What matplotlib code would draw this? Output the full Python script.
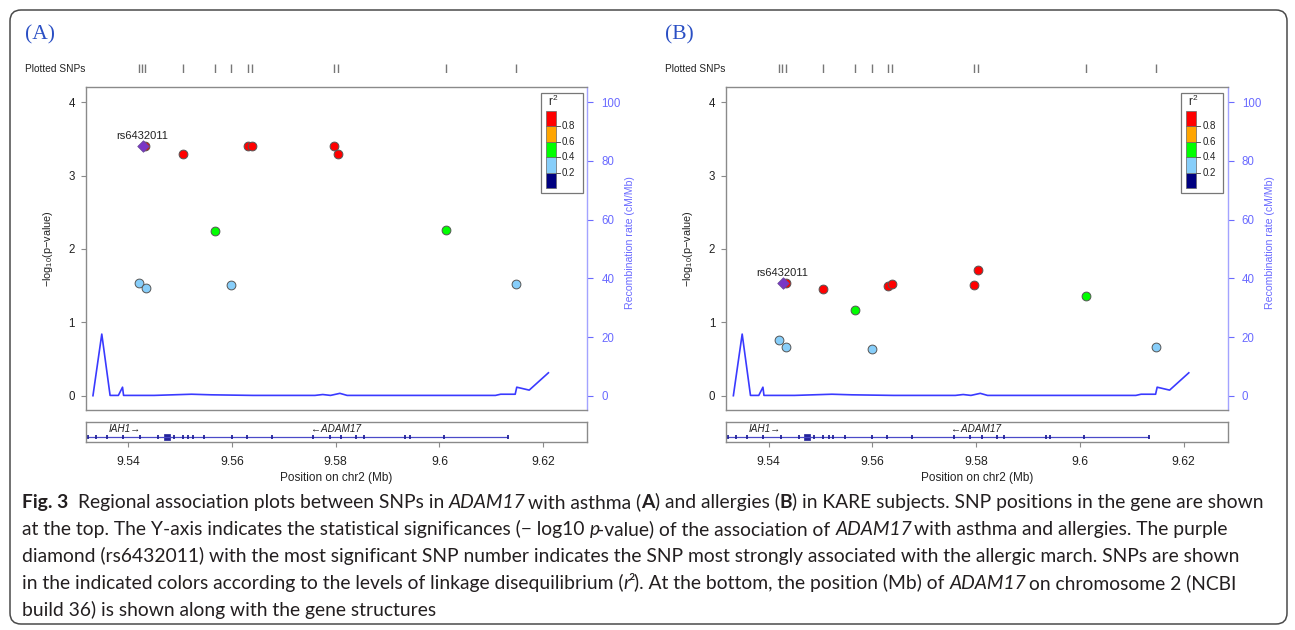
import matplotlib
matplotlib.use('Agg')
import matplotlib.pyplot as plt
from matplotlib.patches import Rectangle, FancyBboxPatch
from matplotlib.transforms import IdentityTransform

W, H, DPI = 1295, 630, 100

# ------------------------------------------------------------------ data
snp_pos = [9.5420, 9.5428, 9.5433, 9.5434, 9.5505, 9.5567, 9.5599,
           9.5631, 9.5638, 9.5796, 9.5804, 9.6012, 9.6147]
# LD bin: 0 <0.2, 1 0.2-0.4, 2 0.4-0.6, 3 0.6-0.8, 4 0.8-1 ; -1 = lead SNP
snp_ld_bin = [1, -1, 4, 1, 4, 2, 1, 4, 4, 4, 4, 2, 1]
logp_asthma = [1.53, 3.40, 3.40, 1.47, 3.30, 2.25, 1.51,
               3.40, 3.40, 3.40, 3.30, 2.26, 1.52]
logp_allergy = [0.76, 1.53, 1.53, 0.665, 1.45, 1.17, 0.63,
                1.50, 1.52, 1.515, 1.716, 1.365, 0.66]
lead_snp = 'rs6432011'

plotted_snp_pos = [9.5420, 9.5426, 9.5433, 9.5505, 9.5567, 9.5599,
                   9.5631, 9.5638, 9.5796, 9.5804, 9.6012, 9.6147]

rec_pos = [9.5332, 9.5349, 9.5365, 9.5381, 9.5389, 9.5391, 9.5450, 9.5522,
           9.5560, 9.5600, 9.5640, 9.5700, 9.5760, 9.5775, 9.5790, 9.5808,
           9.5822, 9.6000, 9.6108, 9.6118, 9.6146, 9.6149, 9.6173, 9.6210]
rec_rate = [0.0, 21.0, 0.1, 0.1, 2.9, 0.1, 0.1, 0.5,
            0.3, 0.2, 0.1, 0.1, 0.1, 0.4, 0.1, 0.8,
            0.1, 0.1, 0.1, 0.5, 0.5, 2.9, 1.9, 7.8]

gene_span = [9.5318, 9.6133]
exon_pos = [9.5322, 9.5337, 9.5359, 9.5390, 9.5423, 9.5458, 9.5488, 9.5505,
            9.5516, 9.5524, 9.5547, 9.5600, 9.5628, 9.5677, 9.5757, 9.5789,
            9.5811, 9.5840, 9.5854, 9.5934, 9.5943, 9.6008, 9.6133]
exon_block = [9.5468, 9.5480]
gene_names = ['IAH1\u2192', '\u2190ADAM17']
gene_label_pos = [9.5362, 9.5752]

x_ticks = [9.54, 9.56, 9.58, 9.60, 9.62]
x_ticklabels = ['9.54', '9.56', '9.58', '9.6', '9.62']
y_ticks = [0, 1, 2, 3, 4]
rec_ticks = [0, 20, 40, 60, 80, 100]
ld_colors = ['#000080', '#87CEFA', '#00FF00', '#FFA500', '#FF0000']
ld_labels = ['0.2', '0.4', '0.6', '0.8']
lead_color = '#7a35c6'

panel_tags = ['(A)', '(B)']

caption_lines = [
    [("Fig. 3", "b"), ("  Regional association plots between SNPs in ", ""), ("ADAM17", "i"),
     (" with asthma (", ""), ("A", "b"), (") and allergies (", ""), ("B", "b"),
     (") in KARE subjects. SNP positions in the gene are shown", "")],
    [("at the top. The Y-axis indicates the statistical significances (\u2212 log10 ", ""),
     ("p", "i"), ("-value) of the association of ", ""), ("ADAM17", "i"),
     (" with asthma and allergies. The purple", "")],
    [("diamond (rs6432011) with the most significant SNP number indicates the SNP most "
      "strongly associated with the allergic march. SNPs are shown", "")],
    [("in the indicated colors according to the levels of linkage disequilibrium (", ""),
     ("r", "i"), ("\u00b2", ""), ("). At the bottom, the position (Mb) of ", ""),
     ("ADAM17", "i"), (" on chromosome 2 (NCBI", "")],
    [("build 36) is shown along with the gene structures", "")],
]

# ------------------------------------------------------------------ setup
plt.rcParams['font.family'] = ['Liberation Sans', 'DejaVu Sans']
plt.rcParams['mathtext.fontset'] = 'custom'
plt.rcParams['mathtext.rm'] = 'Liberation Sans'
plt.rcParams['mathtext.it'] = 'Liberation Sans:italic'
fig = plt.figure(figsize=(W / DPI, H / DPI), dpi=DPI)
fig.patch.set_facecolor('white')

XLIM = (9.5318, 9.6285)
YLIM = (-0.195, 4.2045)
REC_SCALE = 25.0
GREY = '#8a8a8a'
REC_COL = '#3a3aff'
REC_AX_COL = '#6a6aff'
TXT = '#222222'


def px_axes(x0, y0, x1, y1):
    return fig.add_axes([x0 / W, 1 - y1 / H, (x1 - x0) / W, (y1 - y0) / H])


def fig_rect(x0, y0, x1, y1, **kw):
    r = Rectangle((x0 / W, 1 - y1 / H), (x1 - x0) / W, (y1 - y0) / H,
                  transform=fig.transFigure, **kw)
    fig.add_artist(r)


def fig_line(x0, y0, x1, y1, **kw):
    fig.add_artist(plt.Line2D([x0 / W, x1 / W], [1 - y0 / H, 1 - y1 / H],
                              transform=fig.transFigure, **kw))


def draw_panel(dx, logp, tag):
    L, R, T, B = 85.7 + dx, 587.3 + dx, 87.3, 410.0
    ax = px_axes(L, T, R, B)
    ax2 = ax.twinx()
    ax2.plot(rec_pos, rec_rate, color=REC_COL, lw=1.2)
    ax2.set_ylim(YLIM[0] * REC_SCALE, YLIM[1] * REC_SCALE)
    ax.set_zorder(ax2.get_zorder() + 1)
    ax.patch.set_visible(False)
    ax.set_xlim(XLIM)
    ax.set_ylim(YLIM)

    for p, v, b in zip(snp_pos, logp, snp_ld_bin):
        if b >= 0:
            ax.scatter([p], [v], s=40, c=ld_colors[b], edgecolors='#555555',
                       linewidths=0.7, zorder=3)
    for p, v, b in zip(snp_pos, logp, snp_ld_bin):
        if b < 0:
            ax.scatter([p], [v], s=34, marker='D', c=lead_color,
                       edgecolors='#6a4a9a', linewidths=0.6, zorder=4)
            ax.annotate(lead_snp, (p, v), xytext=(-0.5, 7.4),
                        textcoords='offset points', ha='center', va='center',
                        fontsize=8, color=TXT)

    ax.set_xticks([])
    ax.set_yticks(y_ticks)
    ax.set_yticklabels([str(t) for t in y_ticks])
    ax.tick_params(axis='y', length=3.8, width=0.8, color=GREY, pad=4.0,
                   labelsize=8.3, labelcolor=TXT)
    for s in ['left', 'top', 'bottom']:
        ax.spines[s].set_color(GREY)
        ax.spines[s].set_linewidth(1.0)
    ax.spines['right'].set_visible(False)
    for s in ['left', 'top', 'bottom']:
        ax2.spines[s].set_visible(False)
    ax2.spines['right'].set_color('#a3a3ff')
    ax2.spines['right'].set_linewidth(1.0)
    ax2.set_yticks(rec_ticks)
    ax2.set_yticklabels([str(t) for t in rec_ticks])
    ax2.tick_params(axis='y', length=4.2, width=0.8, color=REC_AX_COL, pad=6.0,
                    labelsize=8.3, labelcolor=REC_AX_COL)

    fig.text((47.5 + dx) / W, 1 - 249 / H, r'$\mathregular{-log_{10}(p{-}value)}$',
             rotation=90, ha='center', va='center', fontsize=7.8, color=TXT)
    fig.text((630 + dx) / W, 1 - 243 / H, 'Recombination rate (cM/Mb)',
             rotation=90, ha='center', va='center', fontsize=7.6, color=REC_AX_COL)

    # r^2 legend
    bx0, by0, bx1, by1 = 540.7 + dx, 92.7, 582.7 + dx, 193.3
    fig_rect(bx0, by0, bx1, by1, fill=True, facecolor='white',
             edgecolor='#777777', lw=0.9, zorder=5)
    cx0, cx1, cy0, cy1 = 546 + dx, 556 + dx, 110.7, 188.3
    seg = (cy1 - cy0) / len(ld_colors)
    for i, c in enumerate(ld_colors):
        y1 = cy1 - i * seg
        fig_rect(cx0, y1 - seg, cx1, y1, facecolor=c, edgecolor='#666666',
                 lw=0.5, zorder=6)
    for i, lab in enumerate(ld_labels):
        yb = cy1 - (i + 1) * seg
        fig_line(cx1, yb, cx1 + 4, yb, color='#555555', lw=0.7, zorder=6)
        fig.text((cx1 + 6) / W, 1 - yb / H, lab, fontsize=7, va='center',
                 ha='left', color=TXT, zorder=6)
    fig.text((553 + dx) / W, 1 - 101 / H, r'$\mathregular{r^2}$', fontsize=8.5,
             ha='center', va='center', color=TXT, zorder=6)

    # plotted SNP ticks
    tax = px_axes(L, 64.3, R, 73.3)
    tax.set_xlim(XLIM)
    tax.set_ylim(0, 1)
    tax.vlines(plotted_snp_pos, 0, 1, color='#777777', lw=1.0)
    tax.axis('off')
    fig.text((25 + dx) / W, 1 - 69.5 / H, 'Plotted SNPs', fontsize=7.3,
             ha='left', va='center', color=TXT)

    # gene track
    gax = px_axes(L, 422.3, R, 442.3)
    gax.set_xlim(XLIM)
    gax.set_ylim(0, 1)
    gcol = '#23239a'
    gax.hlines(0.265, gene_span[0], gene_span[1], color='#4a4ac8', lw=0.9)
    gax.vlines(exon_pos, 0.16, 0.37, color=gcol, lw=1.3)
    gax.add_patch(Rectangle((exon_block[0], 0.13), exon_block[1] - exon_block[0],
                            0.27, facecolor=gcol, edgecolor=gcol, lw=0.5))
    for name, p in zip(gene_names, gene_label_pos):
        gax.text(p, 0.64, name, fontsize=7.2, style='italic', ha='left',
                 va='center', color=TXT,
                 family=['Liberation Sans', 'DejaVu Sans'])
    gax.set_yticks([])
    gax.set_xticks(x_ticks)
    gax.set_xticklabels(x_ticklabels)
    gax.tick_params(axis='x', length=3.6, width=0.8, color=GREY, pad=6.5,
                    labelsize=8.8, labelcolor=TXT)
    for s in gax.spines.values():
        s.set_color(GREY)
        s.set_linewidth(1.0)
    gax.set_xlabel('Position on chr2 (Mb)', fontsize=8.5, labelpad=3.0,
                   color=TXT)

    fig.text((25 + dx) / W, 1 - 35 / H, tag, fontsize=15.5,
             family=['Liberation Serif', 'DejaVu Serif'], color='#2a4fc4',
             ha='left', va='center')


draw_panel(0.0, logp_asthma, panel_tags[0])
draw_panel(640.4, logp_allergy, panel_tags[1])

# outer rounded frame
fig.add_artist(FancyBboxPatch((10, 6), 1277, 614,
                              boxstyle='round,pad=0,rounding_size=11',
                              transform=IdentityTransform(), fill=False,
                              edgecolor='#4a4a4a', lw=1.1))

# ------------------------------------------------------------------ caption
CAP_FONTS = ['Lato', 'Open Sans', 'DejaVu Sans']
CAP_COL = '#231f20'
renderer = fig.canvas.get_renderer()


def kw(st):
    return dict(fontweight='bold' if 'b' in st else 'normal',
                fontstyle='italic' if 'i' in st else 'normal',
                family=CAP_FONTS)


def text_w(txt, st, size):
    t = fig.text(0, 0, txt, fontsize=size, **kw(st))
    w = t.get_window_extent(renderer=renderer).width
    t.remove()
    return w


def space_w(st, size):
    return text_w('x x', st, size) - text_w('xx', st, size)


def layout(segs, size):
    out, x = [], 0.0
    for txt, st in segs:
        lead = len(txt) - len(txt.lstrip(' '))
        trail = len(txt) - len(txt.rstrip(' '))
        core = txt.strip(' ')
        sw = space_w('', size)
        x += lead * sw
        if core:
            out.append((x, core, st))
            w = text_w(core, st, size)
            if 'i' in st:
                w -= 0.12 * size * DPI / 72.0   # italic overhang
            x += w
        x += trail * sw
    return out, x


base = 14.0
_, w0 = layout(caption_lines[0], base)
cap_size = base * 1250.0 / w0

cap_x0 = 22.0
cap_centers = [501, 528, 555, 582, 609]
em_px = cap_size * DPI / 72.0
for segs, yc in zip(caption_lines, cap_centers):
    items, _ = layout(segs, cap_size)
    yb = yc + 0.36 * em_px
    for x, txt, st in items:
        fig.text((cap_x0 + x) / W, 1 - yb / H, txt, fontsize=cap_size,
                 color=CAP_COL, va='baseline', ha='left', **kw(st))

fig.savefig('out.png', dpi=DPI, facecolor='white')
